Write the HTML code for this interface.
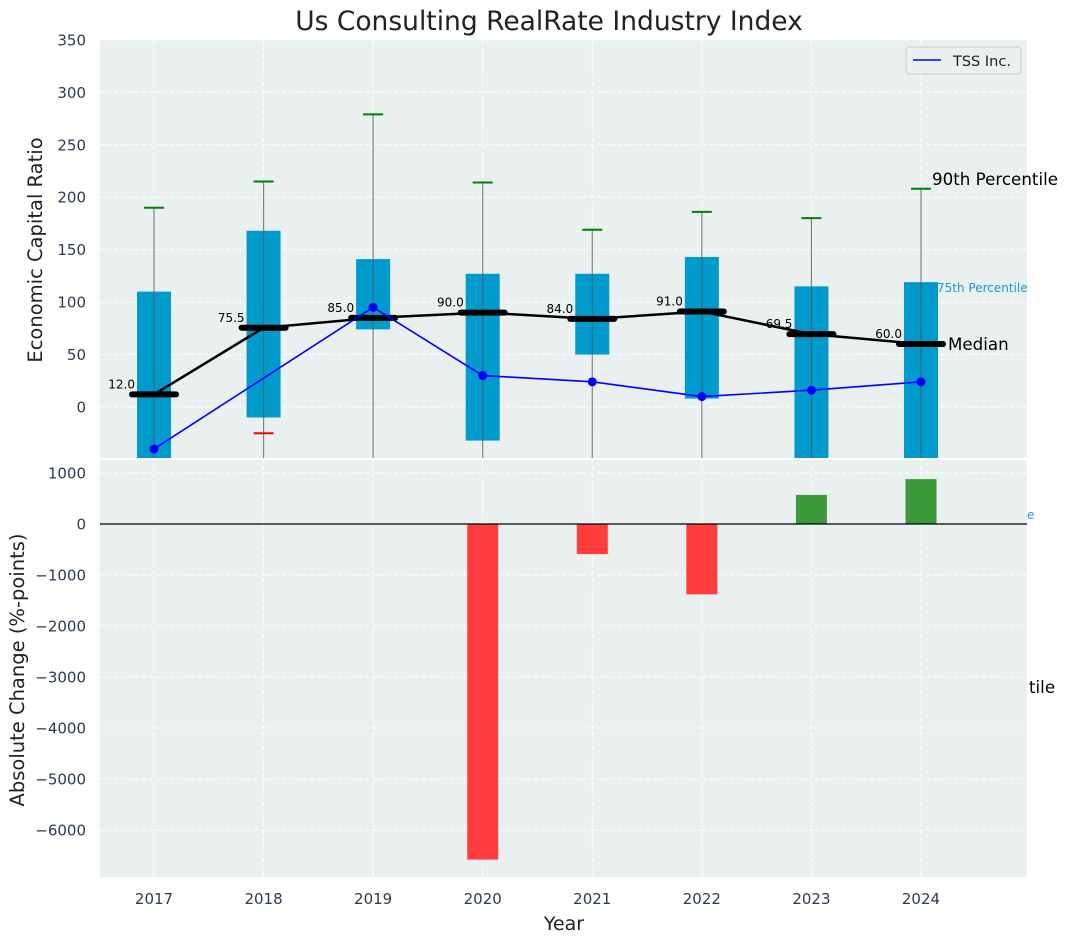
<!DOCTYPE html>
<html><head><meta charset="utf-8"><style>
body{margin:0;background:#fff;font-family:"Liberation Sans","DejaVu Sans",sans-serif}
svg{display:block}
</style></head><body>
<svg id="c" width="1067" height="942" xmlns="http://www.w3.org/2000/svg" font-family="DejaVu Sans, Liberation Sans, sans-serif"></svg>
<script>
const years=[2017,2018,2019,2020,2021,2022,2023,2024];
const q25=[-60,-10,74,-32,50,8,-60,-60];
const q75=[110,168,141,127,127,143,115,119];
const p90=[190,215,279,214,169,186,180,208];
const p10=[null,-25,null,null,null,null,null,null];
const medians=[12,75.5,85,90,84,91,69.5,60];
const tss=[-40,null,95,30,24,10,16,24];
const changes=[0,0,0,-6580,-590,-1380,570,880];
const topTicks=[0,50,100,150,200,250,300,350];
const botTicks=[1000,0,-1000,-2000,-3000,-4000,-5000,-6000];

const NS='http://www.w3.org/2000/svg';
const svgEl=document.getElementById('c');
function el(t,a,p){const e=document.createElementNS(NS,t);for(const k in a)e.setAttribute(k,a[k]);(p||svgEl).appendChild(e);return e;}
const L=100,R=1027,T1=40,B1=458,T2=459,B2=877;
const xs=y=>154+(y-2017)*109.57;
const ys1=v=>407-v*1.049;
const ys2=v=>524-v*0.051;

let e=el('rect',{x:L,y:T1,width:R-L,height:B1-T1,fill:'#eaeff0'});


e=el('rect',{x:L,y:T2+1,width:R-L,height:B2-T2-1,fill:'#eaeff0'});



const g=el('g',{stroke:'#fff','stroke-dasharray':'4,3','stroke-width':1});


topTicks.forEach(v=>{el('line',{x1:L,x2:R,y1:ys1(v),y2:ys1(v)},g);});
botTicks.forEach(v=>{el('line',{x1:L,x2:R,y1:ys2(v),y2:ys2(v)},g);});
years.forEach(y=>{el('line',{x1:xs(y),x2:xs(y),y1:T1,y2:B1},g);el('line',{x1:xs(y),x2:xs(y),y1:T2,y2:B2},g);});

const cp=el('clipPath',{id:'cp1'});
el('rect',{x:L,y:T1,width:R-L,height:B1-T1},cp);
const topG=el('g',{'clip-path':'url(#cp1)'});

years.forEach((y,i)=>{
  const x=xs(y);
  let b=el('rect',{x:x-17,y:ys1(q75[i]),width:34,height:ys1(q25[i])-ys1(q75[i]),fill:'#009acd'},topG);
  
  
  let w=el('line',{x1:x,x2:x,y1:ys1(p90[i]),y2:B1,stroke:'#555','stroke-width':1.2,opacity:0.7},topG);
  
  
  let c=el('line',{x1:x-10,x2:x+10,y1:ys1(p90[i]),y2:ys1(p90[i]),stroke:'green','stroke-width':2},topG);
  
  
  if(p10[i]!==null){
    let c2=el('line',{x1:x-10,x2:x+10,y1:ys1(p10[i]),y2:ys1(p10[i]),stroke:'red','stroke-width':2},topG);
    
    
  }
});
let mp=el('polyline',{points:years.map((y,i)=>xs(y)+','+ys1(medians[i])).join(' '),fill:'none',stroke:'#000','stroke-width':2.5},topG);


years.forEach((y,i)=>{
  let m=el('line',{x1:xs(y)-22,x2:xs(y)+22,y1:ys1(medians[i]),y2:ys1(medians[i]),stroke:'#000','stroke-width':6,'stroke-linecap':'round'},topG);
  
  
  let t=el('text',{x:xs(y)-19,y:ys1(medians[i])-6,'font-size':12,'text-anchor':'end',fill:'#000'},topG);
  t.textContent=medians[i].toFixed(1);
  
  
});
let pts=[];years.forEach((y,i)=>{if(tss[i]!==null)pts.push(xs(y)+','+ys1(tss[i]));});
let tl=el('polyline',{points:pts.join(' '),fill:'none',stroke:'#0000ff','stroke-width':1.6},topG);


years.forEach((y,i)=>{if(tss[i]===null)return;
  let d=el('circle',{cx:xs(y),cy:ys1(tss[i]),r:4.5,fill:'#0000ff'},topG);
  
  
});

years.forEach((y,i)=>{
  const v=changes[i];if(v===0)return;
  const y0=ys2(Math.max(v,0)),h=Math.abs(ys2(v)-ys2(0));
  let b=el('rect',{x:xs(y)-15.5,y:y0,width:31,height:h,fill:v<0?'#ff3d3d':'#3a9a3a'});
  
  
});
e=el('line',{x1:L,x2:R,y1:ys2(0),y2:ys2(0),stroke:'#000','stroke-width':1.3});



const tc='#2b3a4f';
topTicks.forEach(v=>{let t=el('text',{x:86,y:ys1(v)+5.5,'font-size':15,'text-anchor':'end',fill:tc});t.textContent=v;
  
  });
botTicks.forEach(v=>{let t=el('text',{x:86,y:ys2(v)+5.5,'font-size':15,'text-anchor':'end',fill:tc});t.textContent=(v<0?'\u2212'+(-v):v);
  
  });
years.forEach(y=>{let t=el('text',{x:xs(y),y:904,'font-size':15,'text-anchor':'middle',fill:tc});t.textContent=y;
  
  });

function txt(s,a,name){let t=el('text',a);t.textContent=s;
  
  
  return t;}
txt('Us Consulting RealRate Industry Index',{x:549,y:30,'font-size':26.5,'text-anchor':'middle',fill:'#222'},'chart-title');
txt('Economic Capital Ratio',{x:42,y:250,'font-size':19.5,'text-anchor':'middle',fill:'#222',transform:'rotate(-90 42 250)'},'y-axis-title-top');
txt('Absolute Change (%-points)',{x:24,y:670,'font-size':19.5,'text-anchor':'middle',fill:'#222',transform:'rotate(-90 24 670)'},'y-axis-title-bottom');
txt('Year',{x:564,y:930,'font-size':19,'text-anchor':'middle',fill:'#222'},'x-axis-title');
txt('90th Percentile',{x:932,y:185,'font-size':16.7,fill:'#000'},'annotation-90th');
txt('75th Percentile',{x:937,y:292,'font-size':12,fill:'#1a9ad0'},'annotation-75th');
txt('Median',{x:948,y:350,'font-size':16.7,fill:'#000'},'annotation-median');
txt('tile',{x:1029,y:693,'font-size':16.7,fill:'#000'},'annotation-clipped');
txt('e',{x:1027,y:519,'font-size':12,fill:'#1a9ad0'},'annotation-clipped-small');

const lg=el('g',{});


el('rect',{x:906,y:47,width:115,height:27,rx:3,fill:'#eaeff0',stroke:'#ccc'},lg);
el('line',{x1:913,x2:941,y1:60,y2:60,stroke:'#0000ff','stroke-width':1.6},lg);
let lt=el('text',{x:953,y:66,'font-size':14.5,fill:'#222'},lg);lt.textContent='TSS Inc.';
</script>
</body></html>
